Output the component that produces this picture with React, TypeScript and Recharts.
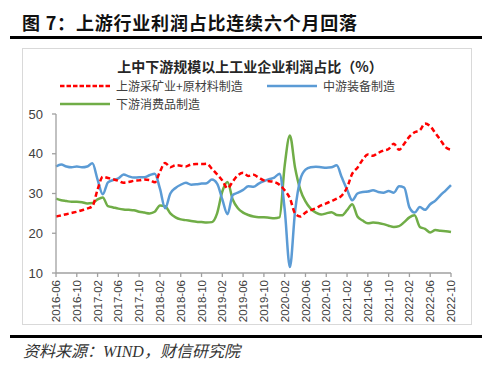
import React from 'react';
import { LineChart, Line, XAxis, YAxis } from 'recharts';

// monthly labels 2016-06 .. 2022-10
const months: string[] = [];
for (let y = 2016, m = 6; y < 2022 || (y === 2022 && m <= 10); ) {
  months.push(`${y}-${String(m).padStart(2, '0')}`);
  m += 1;
  if (m > 12) { m = 1; y += 1; }
}

// 上游采矿业+原材料制造
const upstream = [
  24.2, 24.5, 24.8, 25.1, 25.4, 25.8, 26.2, 26.8, 31.0, 34.2,
  33.9, 33.6, 33.2, 32.7, 32.9, 33.2, 33.3, 33.5, 33.4, 32.8,
  35.5, 37.7, 36.6, 37.1, 37.0, 36.8, 37.3, 37.4, 37.4, 37.5,
  36.2, 34.8, 33.3, 31.3, 33.0, 34.6, 35.2, 34.4, 34.7, 34.0,
  33.3, 33.1, 32.9, 32.2, 30.8, 28.8, 25.0, 24.2, 25.2, 25.8,
  26.3, 27.0, 27.5, 28.1, 28.7, 29.5, 31.5, 35.0, 36.5, 38.5,
  39.8, 39.5, 40.2, 40.8, 41.2, 42.5, 41.0, 42.5, 44.3, 45.4,
  45.9, 47.6, 46.9, 45.2, 43.4, 41.6, 41.0,
];

// 中游装备制造
const midstream = [
  36.8, 37.3, 36.8, 36.6, 36.8, 36.6, 36.8, 37.6, 33.5, 29.8,
  32.8, 33.4, 33.8, 34.8, 34.3, 34.0, 34.1, 34.1, 34.6, 35.0,
  31.2, 26.3, 30.0, 31.4, 32.2, 32.7, 32.2, 32.3, 32.5, 32.6,
  33.5, 32.5, 28.5, 24.8, 29.6, 30.2, 30.9, 31.8, 31.7, 32.5,
  33.1, 33.6, 34.0, 35.0, 26.0, 11.5, 25.5, 33.5, 36.0, 36.6,
  36.7, 36.6, 36.5, 36.6, 37.1, 34.0, 31.0, 28.3, 30.0, 30.4,
  30.5, 30.8, 30.4, 30.2, 30.6, 30.2, 31.8, 31.5, 26.5, 25.2,
  26.6, 25.9, 27.3, 28.2, 29.6, 30.8, 32.1,
];

// 下游消费品制造
const downstream = [
  28.7, 28.3, 28.1, 27.9, 27.9, 27.8, 27.5, 27.6, 28.5, 29.0,
  26.8, 26.5, 26.2, 26.0, 25.9, 25.8, 25.4, 25.2, 25.0, 25.4,
  27.0, 26.8, 25.0, 24.0, 23.5, 23.3, 23.1, 22.9, 22.8, 22.7,
  22.8, 25.0, 30.5, 32.9, 28.5, 26.3, 25.2, 24.6, 24.2, 24.0,
  24.0, 23.9, 23.8, 24.0, 37.0, 44.6, 36.5, 31.0, 28.0, 26.2,
  25.2, 24.7, 25.0, 25.3, 24.6, 24.5, 25.8, 27.3, 24.2, 23.2,
  22.5, 22.7, 22.6, 22.3, 21.9, 21.6, 21.8, 22.8, 24.0, 24.5,
  21.6, 21.1, 20.2, 20.8, 20.6, 20.5, 20.3,
];

const yTicks = [10, 20, 30, 40, 50];

const data = months.map((month, i) => ({
  month,
  up: upstream[i],
  mid: midstream[i],
  down: downstream[i],
}));

const RED = '#FF0000';
const BLUE = '#5B9BD5';
const GREEN = '#70AD47';
const AXIS = '#A0A0A0';
const SANS = "'Liberation Sans', Arial, sans-serif";
const CJK = "'Noto Sans CJK SC', sans-serif";

const XTick = ({ x, y, payload }: any) => (
  <g transform={`translate(${x},${y})`}>
    <text
      transform="rotate(-90)"
      textAnchor="end"
      dy="0.35em"
      fontSize={11.5}
      fill="#404040"
      fontFamily={SANS}
    >
      {payload.value}
    </text>
  </g>
);

const LegendItem = ({ color, dashed, label, left, top }: any) => (
  <div style={{ position: 'absolute', left, top, height: 12, display: 'flex', alignItems: 'center' }}>
    <svg width={50} height={6} style={{ display: 'block' }}>
      <line x1={0} y1={3} x2={50} y2={3} stroke={color} strokeWidth={2.5}
        strokeDasharray={dashed ? '4.5 2' : undefined} />
    </svg>
    <span style={{ marginLeft: 6, fontSize: 12, color: '#404040', fontFamily: CJK, lineHeight: '12px', whiteSpace: 'nowrap' }}>
      {label}
    </span>
  </div>
);

export default function App() {
  return (
    <div style={{ position: 'absolute', left: 0, top: 0, width: 500, height: 370, background: '#fff', overflow: 'hidden' }}>
      <div style={{
        position: 'absolute', left: 22, top: 12, fontSize: 18, lineHeight: '20px', fontWeight: 700,
        fontFamily: CJK, color: '#111', letterSpacing: 0.8, whiteSpace: 'nowrap',
      }}>
        图 7：上游行业利润占比连续六个月回落
      </div>
      <div style={{ position: 'absolute', left: 10, top: 36, width: 472, height: 2.5, background: '#000' }} />

      <div style={{ position: 'absolute', left: 22, top: 48, width: 448, height: 275, border: '1px solid #D9D9D9' }} />

      <div style={{
        position: 'absolute', left: 0, width: 500, top: 58, textAlign: 'center', fontSize: 14,
        lineHeight: '16px', fontWeight: 700, fontFamily: CJK, color: '#262626',
      }}>
        上中下游规模以上工业企业利润占比（%）
      </div>

      <LegendItem color={RED} dashed label="上游采矿业+原材料制造" left={60} top={80} />
      <LegendItem color={BLUE} label="中游装备制造" left={267} top={80} />
      <LegendItem color={GREEN} label="下游消费品制造" left={60} top={97.5} />

      <div style={{ position: 'absolute', left: 0, top: 0 }}>
        <LineChart width={500} height={370} data={data} margin={{ top: 114, right: 49, bottom: 47, left: 0 }}>
          <XAxis
            dataKey="month"
            interval={3}
            height={50}
            tick={<XTick />}
            tickSize={4}
            tickMargin={3}
            stroke={AXIS}
            strokeWidth={1.3}
          />
          <YAxis
            width={56}
            domain={[10, 50]}
            ticks={yTicks}
            tickSize={4}
            tickMargin={9}
            stroke={AXIS}
            strokeWidth={1.3}
            tick={{ fontSize: 13, fill: '#404040', fontFamily: SANS }}
          />
          <Line type="monotone" dataKey="down" stroke={GREEN} strokeWidth={2.5} dot={false} isAnimationActive={false} />
          <Line type="monotone" dataKey="mid" stroke={BLUE} strokeWidth={2.5} dot={false} isAnimationActive={false} />
          <Line type="monotone" dataKey="up" stroke={RED} strokeWidth={2.5} strokeDasharray="5 3" dot={false} isAnimationActive={false} />
        </LineChart>
      </div>

      <div style={{ position: 'absolute', left: 10, top: 335, width: 472, height: 2.5, background: '#000' }} />
      <div style={{
        position: 'absolute', left: 23, top: 343, fontSize: 16, lineHeight: '18px', fontStyle: 'italic',
        fontFamily: "'Liberation Serif', 'Noto Sans CJK SC', serif", color: '#333', whiteSpace: 'nowrap',
      }}>
        资料来源：WIND，财信研究院
      </div>
    </div>
  );
}
